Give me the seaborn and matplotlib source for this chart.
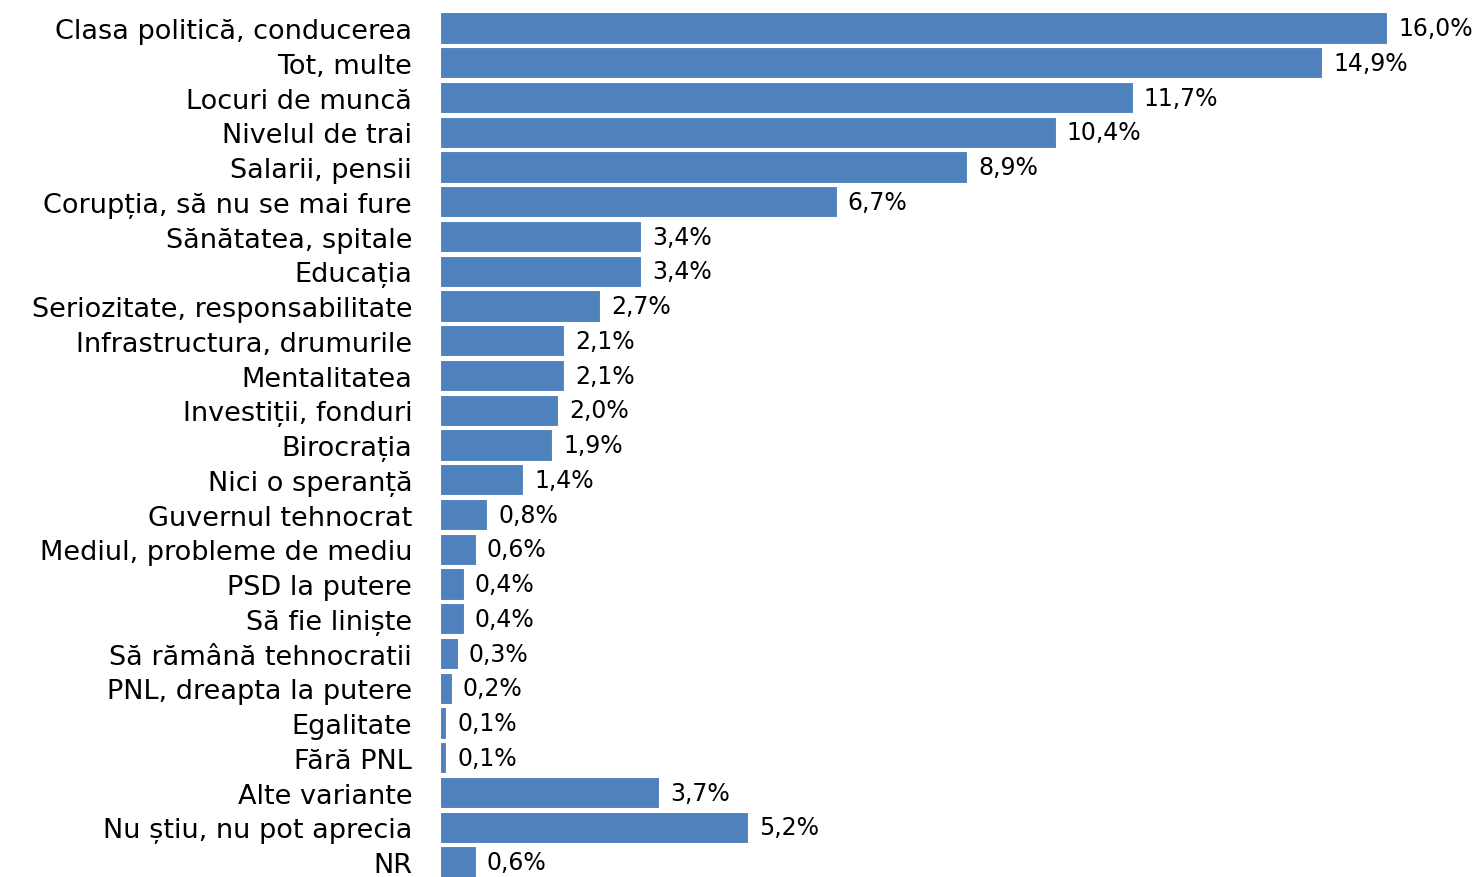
import pandas as pd
import matplotlib
matplotlib.use("Agg")
import matplotlib.pyplot as plt
import seaborn as sns

# Data
categories = [
    "Clasa politică, conducerea",
    "Tot, multe",
    "Locuri de muncă",
    "Nivelul de trai",
    "Salarii, pensii",
    "Corupția, să nu se mai fure",
    "Sănătatea, spitale",
    "Educația",
    "Seriozitate, responsabilitate",
    "Infrastructura, drumurile",
    "Mentalitatea",
    "Investiții, fonduri",
    "Birocrația",
    "Nici o speranță",
    "Guvernul tehnocrat",
    "Mediul, probleme de mediu",
    "PSD la putere",
    "Să fie liniște",
    "Să rămână tehnocratii",
    "PNL, dreapta la putere",
    "Egalitate",
    "Fără PNL",
    "Alte variante",
    "Nu știu, nu pot aprecia",
    "NR",
]
values = [16.0, 14.9, 11.7, 10.4, 8.9, 6.7, 3.4, 3.4, 2.7, 2.1, 2.1, 2.0, 1.9,
          1.4, 0.8, 0.6, 0.4, 0.4, 0.3, 0.2, 0.1, 0.1, 3.7, 5.2, 0.6]

df = pd.DataFrame({"categorie": categories, "procent": values})

sns.set_style("white")
plt.rcParams["font.family"] = ["DejaVu Sans"]

fig = plt.figure(figsize=(14.78, 8.78), dpi=100)
ax = fig.add_axes([440 / 1478, 0, 1 - 440 / 1478, 1])

sns.barplot(data=df, x="procent", y="categorie", orient="h",
            color="#4F81BD", saturation=1, width=0.9,
            edgecolor="white", linewidth=0.8, ax=ax)

ax.bar_label(ax.containers[0],
             labels=[f"{v:.1f}%".replace(".", ",") for v in values],
             padding=8, fontsize=17, color="black")

ax.set_xlim(0, 1038 / 59.2)
ax.set_ylim(24.43, -0.835)
ax.set_xlabel("")
ax.set_ylabel("")
ax.set_xticks([])
ax.tick_params(axis="y", length=0, pad=20, labelsize=19.5, labelcolor="black")
sns.despine(ax=ax, left=True, bottom=True)

fig.savefig("out.png", dpi=100)
